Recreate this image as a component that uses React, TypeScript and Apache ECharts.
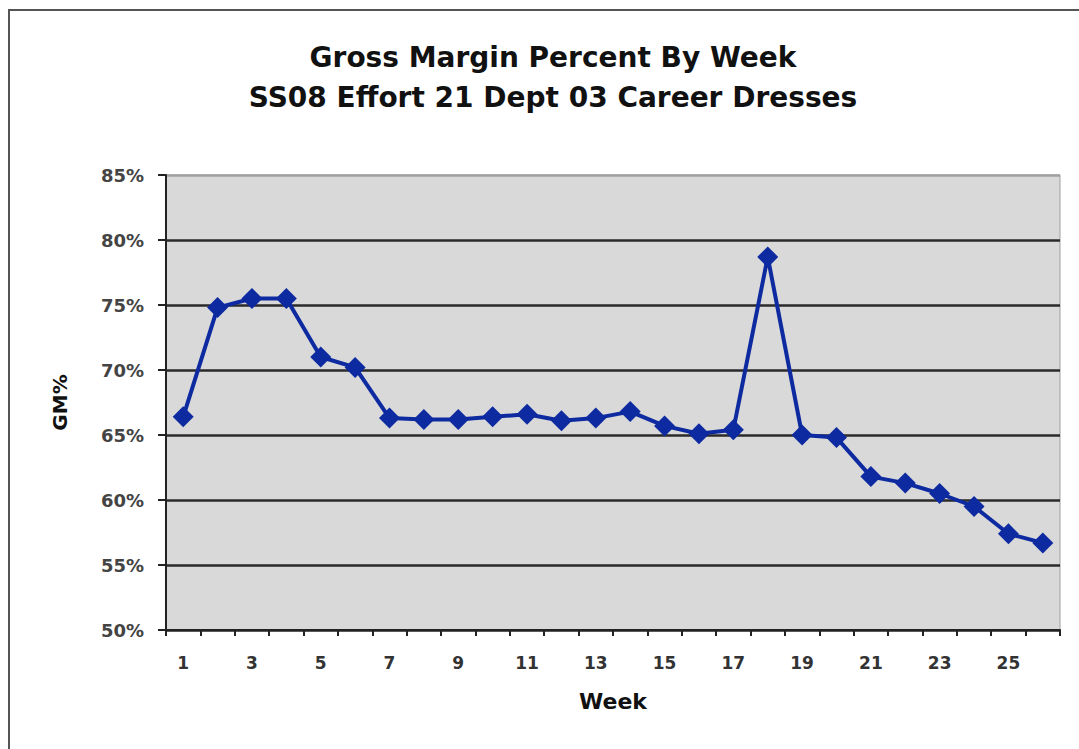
import React, { useEffect, useRef } from "react";
import * as echarts from "echarts";

const weeks = Array.from({ length: 26 }, (_, i) => String(i + 1));
const gmPercent = [
  66.4, 74.8, 75.5, 75.5, 71.0, 70.2, 66.3, 66.2, 66.2, 66.4, 66.6, 66.1, 66.3,
  66.8, 65.7, 65.1, 65.4, 78.7, 65.0, 64.8, 61.8, 61.3, 60.5, 59.5, 57.4, 56.7,
];
const titleLines = ["Gross Margin Percent By Week", "SS08 Effort 21 Dept 03 Career Dresses"];

export default function App() {
  const ref = useRef<HTMLDivElement>(null);
  useEffect(() => {
    if (!ref.current) return;
    const chart = echarts.init(ref.current, null, { renderer: "svg" });
    chart.setOption({
      animation: false,
      backgroundColor: "#ffffff",
      title: {
        text: titleLines.join("\n"),
        left: 548,
        textAlign: "center",
        top: 32,
        textStyle: {
          fontFamily: "DejaVu Sans",
          fontWeight: "bold",
          fontSize: 28,
          lineHeight: 40,
          color: "#111",
        },
      },
      graphic: [
        { type: "line", shape: { x1: 8, y1: 10, x2: 1079, y2: 10 }, style: { stroke: "#555", lineWidth: 2 } },
        { type: "line", shape: { x1: 9, y1: 10, x2: 9, y2: 749 }, style: { stroke: "#555", lineWidth: 2 } },
      ],
      grid: {
        left: 166,
        right: 19,
        top: 175,
        bottom: 119,
        show: true,
        backgroundColor: "#d9d9d9",
        borderColor: "#a0a0a0",
        borderWidth: 1,
      },
      xAxis: {
        type: "category",
        data: weeks,
        boundaryGap: true,
        name: "Week",
        nameLocation: "middle",
        nameGap: 60,
        nameTextStyle: { fontFamily: "DejaVu Sans", fontWeight: "bold", fontSize: 22, color: "#111" },
        axisLine: { lineStyle: { color: "#222", width: 2 } },
        axisTick: { show: true, interval: 0, length: 6, lineStyle: { color: "#222", width: 2 } },
        axisLabel: {
          interval: 1,
          margin: 24,
          fontFamily: "DejaVu Sans",
          fontWeight: "bold",
          fontSize: 17,
          color: "#333",
        },
      },
      yAxis: {
        type: "value",
        min: 50,
        max: 85,
        interval: 5,
        name: "GM%",
        nameLocation: "middle",
        nameGap: 96,
        nameRotate: 90,
        nameTextStyle: { fontFamily: "DejaVu Sans", fontWeight: "bold", fontSize: 20, color: "#111" },
        axisLine: { show: true, lineStyle: { color: "#222", width: 2 } },
        axisTick: { show: true, length: 8, lineStyle: { color: "#222", width: 2 } },
        axisLabel: {
          formatter: "{value}%",
          margin: 22,
          fontFamily: "DejaVu Sans",
          fontWeight: "bold",
          fontSize: 18,
          color: "#444",
        },
        splitLine: {
          show: true,
          lineStyle: {
            color: ["#222", "#2a2a2a", "#2a2a2a", "#2a2a2a", "#2a2a2a", "#2a2a2a", "#2a2a2a", "#a0a0a0"],
            width: 2.5,
          },
        },
      },
      series: [
        {
          type: "line",
          data: gmPercent,
          symbol: "diamond",
          symbolSize: 21,
          lineStyle: { color: "#0d2aa0", width: 4 },
          itemStyle: { color: "#0d2aa0" },
        },
      ],
    });
    return () => chart.dispose();
  }, []);
  return <div ref={ref} style={{ position: "fixed", left: 0, top: 0, width: 1079, height: 749 }} />;
}
